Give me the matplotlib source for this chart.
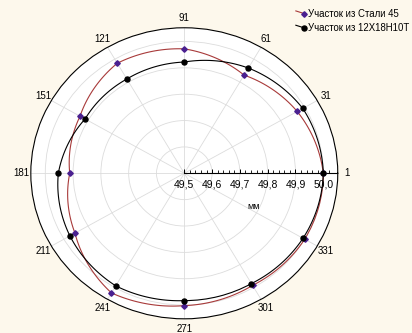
import numpy as np
import matplotlib
matplotlib.use("Agg")
import matplotlib.pyplot as plt
from matplotlib.lines import Line2D
from matplotlib.legend_handler import HandlerLine2D

plt.rcParams["font.family"] = ["Liberation Sans", "DejaVu Sans"]

# angle positions (deg) and their labels
angles = [0, 30, 60, 90, 120, 150, 180, 210, 240, 270, 300, 330]
angle_labels = ["1", "31", "61", "91", "121", "151", "181", "211", "241", "271", "301", "331"]

# radius, mm
steel45 = [50.000, 49.969, 49.930, 49.972, 49.982, 49.933, 49.912, 49.954, 50.024, 50.002, 49.991, 50.000]
steel12x = [50.000, 49.992, 49.961, 49.922, 49.913, 49.912, 49.953, 49.975, 49.993, 49.983, 49.983, 49.993]

r_ticks = [49.5, 49.6, 49.7, 49.8, 49.9, 50.0]
r_min, r_max = 49.5, 50.052

BG = "#fdf8ec"
RED = "#a83a3a"
PURPLE = "#4a2090"


class DiagHandler(HandlerLine2D):
    # statistica-style legend key: slanted line ending in the marker
    def create_artists(self, legend, orig_handle, xdescent, ydescent, width, height, fontsize, trans):
        x0, x1 = -xdescent, -xdescent + width
        yc = -ydescent + height * 0.4
        line = Line2D([x0, x1], [yc + height * 0.45, yc - height * 0.05],
                      color=orig_handle.get_color(), lw=orig_handle.get_linewidth())
        mx = x0 + width * 0.78
        my = yc + height * 0.45 - (height * 0.5) * 0.78
        mk = Line2D([mx], [my], ls="none", marker=orig_handle.get_marker(),
                    ms=orig_handle.get_markersize(), color=orig_handle.get_markerfacecolor())
        line.set_transform(trans)
        mk.set_transform(trans)
        return [line, mk]


fig = plt.figure(figsize=(4.12, 3.33), dpi=100, facecolor=BG)
ax = fig.add_axes([0.0748, 0.0426, 0.745, 0.874], projection="polar")
ax.set_aspect("auto")
ax.set_facecolor("white")
ax.set_ylim(r_min, r_max)

th = np.deg2rad(angles + [360])
l1, = ax.plot(th, steel45 + steel45[:1], color=RED, lw=0.8, zorder=3)
ax.plot(th[:-1], steel45, ls="none", marker="D", ms=2.8, color=PURPLE, zorder=4)
l2, = ax.plot(th, steel12x + steel12x[:1], color="black", lw=0.8, zorder=3)
ax.plot(th[:-1], steel12x, ls="none", marker="o", ms=3.6, color="black", zorder=4)
# follow the polar arc between points instead of straight chords
for ln in (l1, l2):
    ln.get_path()._interpolation_steps = 60

# grid
ax.set_thetagrids(angles, labels=angle_labels)
ax.set_rgrids(r_ticks, labels=[""] * len(r_ticks))
ax.grid(color="#dcdcdc", lw=0.6)
ax.tick_params(axis="x", labelsize=7, direction="inout", length=4, width=0.6, pad=-2)
ax.spines["polar"].set_color("black")
ax.spines["polar"].set_linewidth(0.8)

# radial axis along theta = 0
ax.plot([0, 0], [r_min, r_max], color="black", lw=0.8, zorder=2)
minor = np.arange(49.5, 50.03, 0.02)
ax.plot(np.zeros(len(minor)), minor, ls="none", marker=2, ms=2, mew=0.6, color="black", zorder=2)
ax.plot(np.zeros(len(r_ticks)), r_ticks, ls="none", marker=2, ms=3, mew=0.7, color="black", zorder=2)
for v in r_ticks:
    ax.annotate(f"{v:.1f}".replace(".", ","), (0, v), xytext=(0, -4.5), textcoords="offset points",
                ha="center", va="top", fontsize=7.5)
ax.annotate("мм", (0, 49.75), xytext=(0, -21), textcoords="offset points",
            ha="center", va="top", fontsize=6.5)

h1 = Line2D([], [], color=RED, lw=0.8, marker="D", ms=2.8, mfc=PURPLE, mec=PURPLE)
h2 = Line2D([], [], color="black", lw=0.8, marker="o", ms=3.6, mfc="black")
fig.legend(
    [h1, h2], ["Участок из Стали 45", "Участок из 12Х18Н10Т"],
    handler_map={Line2D: DiagHandler()},
    loc="upper right", bbox_to_anchor=(1.015, 1.0), frameon=False, fontsize=6.9,
    handlelength=1.1, handletextpad=0.2, labelspacing=0.45,
)

fig.savefig("out.png", dpi=100, facecolor=BG)
